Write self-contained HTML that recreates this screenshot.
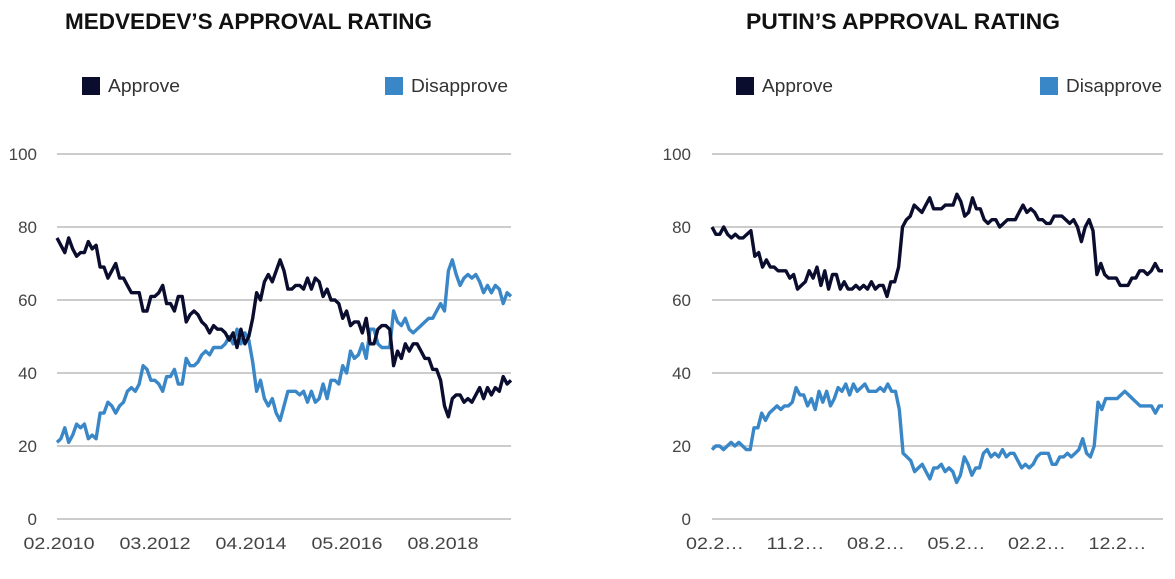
<!DOCTYPE html>
<html><head><meta charset="utf-8">
<style>
body{margin:0;background:#fff;width:1175px;height:579px;overflow:hidden;font-family:"Liberation Sans",sans-serif;}
svg{display:block}
</style></head>
<body>
<svg id="c" width="1175" height="579">
<text x="65" y="29" font-size="22" font-weight="bold" fill="#111" textLength="367" lengthAdjust="spacingAndGlyphs">MEDVEDEV’S APPROVAL RATING</text>
<text x="746" y="29" font-size="22" font-weight="bold" fill="#111" textLength="314" lengthAdjust="spacingAndGlyphs">PUTIN’S APPROVAL RATING</text>
<g>
<rect x="82" y="77" width="18" height="18" fill="#0b0d2e"/>
<text x="108" y="92" font-size="18" fill="#333" textLength="72" lengthAdjust="spacingAndGlyphs">Approve</text>
<rect x="385" y="77" width="18" height="18" fill="#3a87c8"/>
<text x="411" y="92" font-size="18" fill="#333" textLength="97" lengthAdjust="spacingAndGlyphs">Disapprove</text>
</g>
<g>
<rect x="736" y="77" width="18" height="18" fill="#0b0d2e"/>
<text x="762" y="92" font-size="18" fill="#333" textLength="71" lengthAdjust="spacingAndGlyphs">Approve</text>
<rect x="1040" y="77" width="18" height="18" fill="#3a87c8"/>
<text x="1066" y="92" font-size="18" fill="#333" textLength="96" lengthAdjust="spacingAndGlyphs">Disapprove</text>
</g>
</svg>
<script>
const yTicks=[0,20,40,60,80,100];
const medXLabels=["02.2010","03.2012","04.2014","05.2016","08.2018"];
const putXLabels=["02.2…","11.2…","08.2…","05.2…","02.2…","12.2…"];
const medApprove=[77,75,73,77,74,72,73,73,76,74,75,69,69,66,68,70,66,66,64,62,62,62,57,57,61,61,62,64,59,59,57,61,61,54,56,57,56,54,53,51,53,52,52,51,49,51,47,52,48,50,55,62,60,65,67,65,68,71,68,63,63,64,64,63,66,63,66,65,61,63,60,60,59,55,57,53,54,54,51,55,48,48,52,53,53,52,42,46,44,48,46,48,48,46,44,44,41,41,38,31,28,33,34,34,32,33,32,34,36,33,36,34,36,35,39,37,38];
const medDisapprove=[21,22,25,21,23,26,25,26,22,23,22,29,29,32,31,29,31,32,35,36,35,37,42,41,38,38,37,35,39,39,41,37,37,44,42,42,43,45,46,45,47,47,47,48,50,48,52,48,51,49,43,35,38,33,31,33,29,27,31,35,35,35,34,35,32,35,32,33,37,33,38,38,37,42,40,46,44,45,48,44,52,52,48,47,47,47,57,54,53,55,52,51,52,53,54,55,55,57,59,57,68,71,67,64,66,67,66,67,65,62,64,62,64,63,59,62,61];
const putApprove=[80,78,78,80,78,77,78,77,77,78,79,72,73,69,71,69,69,68,68,68,66,67,63,64,65,68,66,69,64,68,63,67,67,63,65,63,63,64,63,64,63,65,63,64,64,61,65,65,69,80,82,83,86,85,84,86,88,85,85,85,86,86,86,89,87,83,84,88,85,85,82,81,82,82,80,81,82,82,82,84,86,84,85,84,82,82,81,81,83,83,83,82,81,82,80,76,80,82,79,67,70,67,66,66,66,64,64,64,66,66,68,68,67,68,70,68,68];
const putDisapprove=[19,20,20,19,20,21,20,21,20,19,19,25,25,29,27,29,30,31,30,31,31,32,36,34,34,31,33,30,35,32,35,31,33,36,35,37,34,37,35,36,37,35,35,35,36,35,37,35,35,30,18,17,16,13,14,15,13,11,14,14,15,13,14,13,10,12,17,15,12,14,14,18,19,17,18,17,19,17,18,18,16,14,15,14,15,17,18,18,18,15,15,17,17,18,17,18,19,22,18,17,20,32,30,33,33,33,33,34,35,34,33,32,31,31,31,31,29,31,31];

const NS="http://www.w3.org/2000/svg";
const svg=document.getElementById('c');
const y=v=>519-v*3.65;
function mk(tag,attrs,parent){const e=document.createElementNS(NS,tag);for(const k in attrs)e.setAttribute(k,attrs[k]);(parent||svg).appendChild(e);return e;}
function chart(name,x0,x1,labX,xLabels,labStart,labStep,labW,app,dis){
  const g=mk('g',{});
  
  
  yTicks.forEach(t=>{
    const l=mk('line',{x1:x0,x2:x1,y1:y(t),y2:y(t),stroke:'#ccc','stroke-width':2},g);
    
    
    const tx=mk('text',{x:labX,y:y(t)+6,'text-anchor':'end','font-size':17,fill:'#444'},g);
    tx.textContent=t;
    
    
  });
  xLabels.forEach((s,i)=>{
    const tx=mk('text',{x:labStart+i*labStep-labW/2,y:549,'font-size':17,fill:'#444',textLength:labW,lengthAdjust:'spacingAndGlyphs'},g);
    tx.textContent=s;
    
    
  });
  [[dis,'#3a87c8','disapprove-line'],[app,'#0b0d2e','approve-line']].forEach(([arr,col,nm])=>{
    const n=arr.length;
    const pts=arr.map((v,i)=>(x0+i*(x1-x0)/(n-1)).toFixed(1)+','+y(v).toFixed(1)).join(' ');
    const p=mk('polyline',{points:pts,fill:'none',stroke:col,'stroke-width':3.4,'stroke-linejoin':'round'},g);
    
    
  });
}
chart('medvedev-chart',57,511,37,medXLabels,59,96,71,medApprove,medDisapprove);
chart('putin-chart',712,1163,691,putXLabels,715,80.5,58,putApprove,putDisapprove);
</script>
</body></html>
